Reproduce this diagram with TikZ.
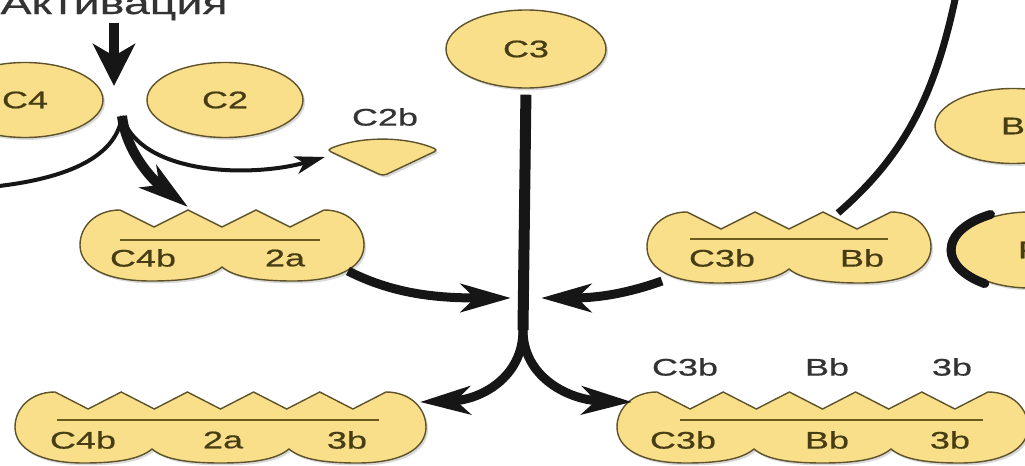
\documentclass[tikz,border=0pt]{standalone}
\usepackage{fontspec}
\setmainfont{Liberation Sans}[FakeStretch=1.5,FakeBold=0.6]
\usepackage{xcolor}
\definecolor{cFill}{HTML}{F9DF8A}
\definecolor{cEdge}{HTML}{5E522A}
\definecolor{cText}{HTML}{463D15}
\definecolor{cBar}{HTML}{6B5A1E}
\definecolor{cInk}{HTML}{161616}
\definecolor{cLabel}{HTML}{333333}
\usetikzlibrary{positioning,arrows.meta,shapes.geometric,shadows}
\tikzset{
  node-ellipse/.style={ellipse,draw=cEdge,line width=0.7pt,fill=cFill,
    minimum width=78pt,minimum height=37.5pt,inner sep=0pt,text=cText,
    font=\fontsize{12}{14}\selectfont,
    drop shadow={shadow xshift=1pt,shadow yshift=-1.2pt,opacity=0.3}},
  cplx-body/.style={draw=cEdge,line width=0.7pt,fill=cFill,
    drop shadow={shadow xshift=1pt,shadow yshift=-1.2pt,opacity=0.3}},
  cplx-bar/.style={draw=cBar,line width=1.2pt},
  cplx-text/.style={text=cText,inner sep=0pt,font=\fontsize{12}{14}\selectfont},
  label-free/.style={text=cLabel,inner sep=0pt,font=\fontsize{12}{14}\selectfont},
  label-act/.style={text=cLabel,inner sep=1pt,anchor=base,
    font=\fontsize{15.5}{18}\selectfont},
  arrow-act/.style={draw=cInk,line width=5pt,
    -{Stealth[length=21pt,width=21pt,inset=6pt]}},
  arrow-main/.style={draw=cInk,line width=4.5pt,
    -{Stealth[length=25pt,width=14pt,inset=7pt]}},
  arrow-thin/.style={draw=cInk,line width=2pt,
    -{Stealth[length=15pt,width=9pt,inset=4pt]}},
  line-thin/.style={draw=cInk,line width=2pt},
  line-trunk/.style={draw=cInk,line width=5.5pt},
  line-long/.style={draw=cInk,line width=3.5pt},
  line-crescent/.style={draw=cInk,line width=4.5pt,line cap=round},
}
% lobed complex: #1 left x, #2 centre y, #3 lobes, #4 lobe width
\newcommand\cplxshape[4]{%
  \begin{scope}[shift={(#1,#2)}]
    \pgfmathsetmacro\cxr{#3*#4}
    \pgfmathsetmacro\cstep{(\cxr-80)/(4*#3-2)}
    \pgfmathtruncatemacro\clast{#3-1}
    \pgfmathtruncatemacro\czig{4*#3-3}
    \path[cplx-body] (40,-35)
      .. controls (15,-35) and (0,-18) .. (0,0)
      .. controls (0,22) and (25,36) .. (#4/2,36)
      \foreach \i in {1,...,\clast}{
        .. controls ({(\i-0.5)*#4+35},36) and ({\i*#4-12},32) .. ({\i*#4},22)
        .. controls ({\i*#4+12},32) and ({(\i+0.5)*#4-35},36) .. ({(\i+0.5)*#4},36)}
      .. controls (\cxr-25,36) and (\cxr,22) .. (\cxr,0)
      .. controls (\cxr,-18) and (\cxr-15,-35) .. (\cxr-40,-35)
      \foreach \k in {1,...,\czig}{
        -- ({\cxr-40-\k*\cstep},{-26.5-8.5*cos(180*\k)})}
      -- cycle;
  \end{scope}}

\begin{document}
\begin{tikzpicture}[x=0.5pt,y=-0.5pt]
  \useasboundingbox (0,0) rectangle (1025,466);
  % free components
  \node[label-act] (act) at (114,14) {Активация};
  \node[node-ellipse] (c4) at (25,100) {C4};
  \node[node-ellipse] (c2) at (225,100) {C2};
  \node[node-ellipse,minimum width=80pt,minimum height=39pt] (c3) at (526,49) {C3};
  \node[node-ellipse] (fb) at (1013,126) {B};
  \node[node-ellipse,minimum width=75pt,minimum height=38pt] (fp) at (1030,250) {P};
  \path[cplx-body,rounded corners=2pt] (327,150) .. controls (360,136) and (405,136) .. (438,150)
    -- (383,176) -- cycle;
  \node[label-free] (c2b) at (385,117) {C2b};
  % complexes
  \cplxshape{80}{245}{2}{142}
  \cplxshape{647}{247}{2}{142}
  \cplxshape{15}{427}{3}{137}
  \cplxshape{617}{427}{3}{137}
  \draw[cplx-bar] (120,240) -- (320,240);
  \node[cplx-text] (ca1) at (143,258) {C4b};
  \node[cplx-text] (ca2) at (285,258) {2a};
  \draw[cplx-bar] (690,239) -- (888,239);
  \node[cplx-text] (cb1) at (722,258) {C3b};
  \node[cplx-text] (cb2) at (862,258) {Bb};
  \draw[cplx-bar] (57,420) -- (379,420);
  \node[cplx-text] (cc1) at (83,440) {C4b};
  \node[cplx-text] (cc2) at (223,440) {2a};
  \node[cplx-text] (cc3) at (347,440) {3b};
  \draw[cplx-bar] (680,420) -- (983,420);
  \node[cplx-text] (cd1) at (683,440) {C3b};
  \node[cplx-text] (cd2) at (827,440) {Bb};
  \node[cplx-text] (cd3) at (950,440) {3b};
  \node[label-free] (ld1) at (685,367) {C3b};
  \node[label-free] (ld2) at (827,367) {Bb};
  \node[label-free] (ld3) at (952,367) {3b};
  % connector ends
  \coordinate (cleave) at (114,86);
  \coordinate (split)  at (122,116);
  \coordinate (ca-in)  at (188,207);
  \coordinate (c2b-in) at (325,157);
  \coordinate (off-left) at (-10,187);
  \coordinate (ca-out) at (348,271);
  \coordinate (cb-out) at (662,281);
  \coordinate (cb-top) at (838,213);
  \coordinate (off-top) at (956,-5);
  \coordinate (join-l) at (511,298);
  \coordinate (join-r) at (541,298);
  \coordinate (fork)   at (523,330);
  \coordinate (cc-in)  at (420,402);
  \coordinate (cd-in)  at (632,402);
  % connectors
  \draw[arrow-act]  (act.south) -- (cleave);
  \draw[arrow-main,line width=5pt] (split) .. controls (126,150) and (150,178) .. (ca-in);
  \draw[arrow-thin] (split) .. controls (140,175) and (250,178) .. (c2b-in);
  \draw[line-thin]  (split) .. controls (116,160) and (60,180) .. (off-left);
  \draw[arrow-main] (ca-out) .. controls (395,295) and (440,298) .. (join-l);
  \draw[arrow-main] (cb-out) .. controls (620,296) and (590,298) .. (join-r);
  \draw[line-trunk,shorten <=3pt] (c3.south) -- (fork);
  \draw[arrow-main] (fork) .. controls (523,378) and (480,400) .. (cc-in);
  \draw[arrow-main] (fork) .. controls (523,378) and (570,400) .. (cd-in);
  \draw[line-long]  (cb-top) .. controls (905,155) and (935,95) .. (off-top);
  \draw[line-crescent] ([shift={(-120:79 and 41)}]fp.center)
    arc[start angle=-120,end angle=-235,x radius=79,y radius=41];
\end{tikzpicture}
\end{document}
